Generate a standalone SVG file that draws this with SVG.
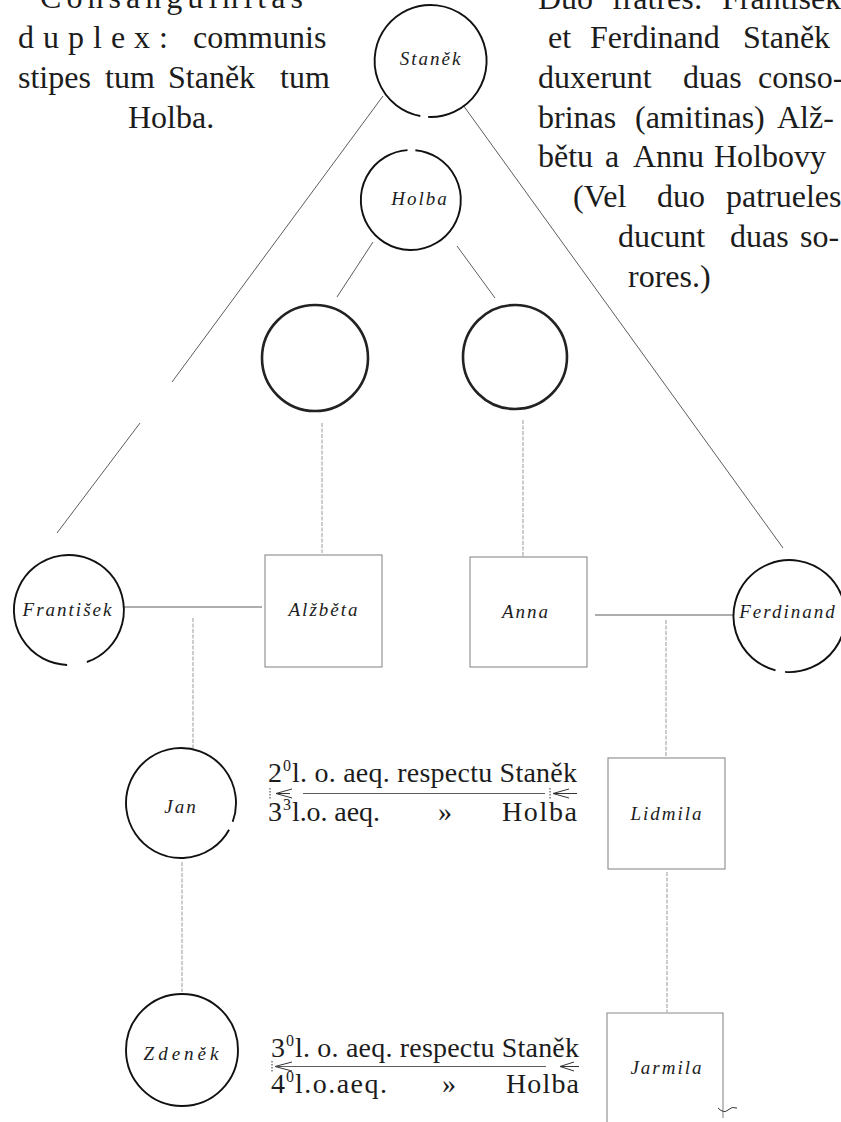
<svg xmlns="http://www.w3.org/2000/svg" width="841" height="1122" viewBox="0 0 841 1122">
  <style>
    .body { font-family: "Liberation Serif", "DejaVu Serif", serif; font-size: 32px; fill: #1c1c1c; }
    .row { font-family: "Liberation Serif", "DejaVu Serif", serif; font-size: 28px; fill: #1c1c1c; }
    .sup { font-family: "Liberation Serif", "DejaVu Serif", serif; font-size: 16px; fill: #1c1c1c; }
    .lbl { font-family: "Liberation Serif", "DejaVu Serif", serif; font-size: 19px; font-style: italic; letter-spacing: 2px; fill: #1c1c1c; text-anchor: middle; }
    .ring { fill: none; stroke: #111; stroke-width: 1.9; }
    .ring-heavy { fill: none; stroke: #222; stroke-width: 2.6; }
    .box { fill: none; stroke: #8a8a8a; stroke-width: 1.1; }
    .link { fill: none; stroke: #4a4a4a; stroke-width: 0.9; }
    .faint { fill: none; stroke: #9a9a9a; stroke-width: 1; stroke-dasharray: 4 1.5; }
    .arrow { fill: none; stroke: #333; stroke-width: 1; }
    .tick { fill: none; stroke: #333; stroke-width: 1; stroke-dasharray: 1.5 1.5; }
  </style>

  <!-- explanatory text, left column (justified: words placed one by one) -->
  <g id="note-left" class="body">
    <text x="40" y="8" textLength="263" lengthAdjust="spacing">Consanguinitas</text>
    <text x="18" y="48" textLength="150" lengthAdjust="spacing">duplex:</text>
    <text x="193" y="48">communis</text>
    <text x="18" y="88">stipes</text>
    <text x="105" y="88">tum</text>
    <text x="168" y="88">Staněk</text>
    <text x="280" y="88">tum</text>
    <text x="128" y="128">Holba.</text>
  </g>

  <!-- explanatory text, right column -->
  <g id="note-right" class="body">
    <text x="538" y="9">Duo</text>
    <text x="612" y="9">fratres:</text>
    <text x="722" y="9">František</text>

    <text x="548" y="48">et</text>
    <text x="590" y="48">Ferdinand</text>
    <text x="743" y="48">Staněk</text>

    <text x="538" y="88">duxerunt</text>
    <text x="683" y="88">duas</text>
    <text x="758" y="88">conso-</text>

    <text x="538" y="128">brinas</text>
    <text x="635" y="128">(amitinas)</text>
    <text x="777" y="128">Alž-</text>

    <text x="538" y="167">bětu</text>
    <text x="605" y="167">a</text>
    <text x="633" y="167">Annu</text>
    <text x="714" y="167">Holbovy</text>

    <text x="573" y="207">(Vel</text>
    <text x="657" y="207">duo</text>
    <text x="726" y="207">patrueles</text>

    <text x="618" y="247">ducunt</text>
    <text x="730" y="247">duas</text>
    <text x="800" y="247">so-</text>

    <text x="628" y="287">rores.)</text>
  </g>

  <!-- connectors -->
  <g id="connectors">
    <!-- Staněk to the two brothers -->
    <line class="link" x1="383" y1="96" x2="172" y2="382"/>
    <line class="link" x1="140" y1="423" x2="57" y2="533"/>
    <line class="link" x1="463" y1="105" x2="783" y2="548"/>
    <!-- Holba to the two unnamed children -->
    <line class="link" x1="373" y1="242" x2="337" y2="297"/>
    <line class="link" x1="457" y1="246" x2="495" y2="298"/>
    <!-- unnamed children to daughters -->
    <line class="faint" x1="322" y1="423" x2="322" y2="553"/>
    <line class="faint" x1="523" y1="420" x2="523" y2="556"/>
    <!-- marriages -->
    <line class="link" x1="124" y1="607" x2="262" y2="607"/>
    <line class="link" x1="595" y1="615" x2="733" y2="615"/>
    <!-- descent -->
    <line class="faint" x1="193" y1="618" x2="193" y2="749"/>
    <line class="faint" x1="666" y1="620" x2="666" y2="757"/>
    <line class="faint" x1="182" y1="862" x2="182" y2="992"/>
    <line class="faint" x1="667" y1="872" x2="667" y2="1012"/>

    <!-- degree arrows, Jan row -->
    <line class="tick" x1="270" y1="788" x2="270" y2="799"/>
    <path class="arrow" d="M292,789 L276,793.5 L292,798 M276,793.5 L290,793.5"/>
    <line class="link" x1="303" y1="793.5" x2="545" y2="793.5"/>
    <line class="tick" x1="550" y1="788" x2="550" y2="799"/>
    <path class="arrow" d="M569,789 L553,793.5 L569,798 M553,793.5 L577,793.5"/>

    <!-- degree arrows, Zdeněk row -->
    <line class="tick" x1="272" y1="1061" x2="272" y2="1072"/>
    <path class="arrow" d="M292,1062 L275,1066.5 L292,1071"/>
    <line class="link" x1="275" y1="1066.5" x2="546" y2="1066.5"/>
    <path class="arrow" d="M574,1062 L560,1066.5 L574,1071 M560,1066.5 L579,1066.5"/>
  </g>

  <!-- common ancestors -->
  <g id="stanek">
    <path class="ring" d="M420.3,116 A56,56 0 1 1 428.1,116.9"/>
    <text class="lbl" x="431" y="65">Staněk</text>
  </g>
  <g id="holba">
    <path class="ring" d="M415.4,150.2 A50,50 0 1 1 407.5,150.1"/>
    <text class="lbl" x="420" y="205">Holba</text>
  </g>

  <!-- Holba's two children -->
  <g id="holba-child-1">
    <circle class="ring-heavy" cx="315" cy="358" r="53"/>
  </g>
  <g id="holba-child-2">
    <circle class="ring-heavy" cx="515" cy="357" r="52"/>
  </g>

  <!-- married couples -->
  <g id="frantisek">
    <path class="ring" d="M67.1,665 A55,55 0 1 1 86.9,662"/>
    <text class="lbl" x="68" y="616">František</text>
  </g>
  <g id="alzbeta">
    <rect class="box" x="265" y="555" width="117" height="112"/>
    <text class="lbl" x="324" y="616">Alžběta</text>
  </g>
  <g id="anna">
    <rect class="box" x="470" y="557" width="117" height="110"/>
    <text class="lbl" x="526" y="618">Anna</text>
  </g>
  <g id="ferdinand">
    <path class="ring" d="M775.5,670.3 A56,56 0 1 1 785.1,671.9"/>
    <text class="lbl" x="788" y="618">Ferdinand</text>
  </g>

  <!-- second generation -->
  <g id="jan">
    <path class="ring" d="M229.1,829.7 A55,55 0 1 1 232.7,821.8"/>
    <text class="lbl" x="181" y="813">Jan</text>
  </g>
  <g id="lidmila">
    <rect class="box" x="608" y="758" width="117" height="111"/>
    <text class="lbl" x="667" y="820">Lidmila</text>
  </g>

  <!-- third generation -->
  <g id="zdenek">
    <circle class="ring" cx="182" cy="1050" r="56"/>
    <text class="lbl" x="183" y="1060" style="letter-spacing:4px">Zdeněk</text>
  </g>
  <g id="jarmila">
    <path class="box" d="M607,1130 L607,1013 L723,1013 L723,1118"/>
    <path class="arrow" d="M718,1108 q6,6 10,2 q4,-4 9,-2"/>
    <text class="lbl" x="667" y="1074">Jarmila</text>
  </g>

  <!-- degree notes -->
  <g id="degrees-jan" class="row">
    <text x="268" y="782">2</text>
    <text class="sup" x="283" y="771">0</text>
    <text x="292" y="782" textLength="285" lengthAdjust="spacing">l. o. aeq. respectu Staněk</text>
    <text x="268" y="821">3</text>
    <text class="sup" x="283" y="810">3</text>
    <text x="292" y="821" textLength="88" lengthAdjust="spacing">l.o. aeq.</text>
    <text x="438" y="821">»</text>
    <text x="502" y="821" textLength="75" lengthAdjust="spacing">Holba</text>
  </g>
  <g id="degrees-zdenek" class="row">
    <text x="271" y="1057">3</text>
    <text class="sup" x="286" y="1046">0</text>
    <text x="295" y="1057" textLength="284" lengthAdjust="spacing">l. o. aeq. respectu Staněk</text>
    <text x="271" y="1093">4</text>
    <text class="sup" x="286" y="1082">0</text>
    <text x="295" y="1093" textLength="92" lengthAdjust="spacing">l.o.aeq.</text>
    <text x="442" y="1093">»</text>
    <text x="506" y="1093" textLength="73" lengthAdjust="spacing">Holba</text>
  </g>
</svg>
